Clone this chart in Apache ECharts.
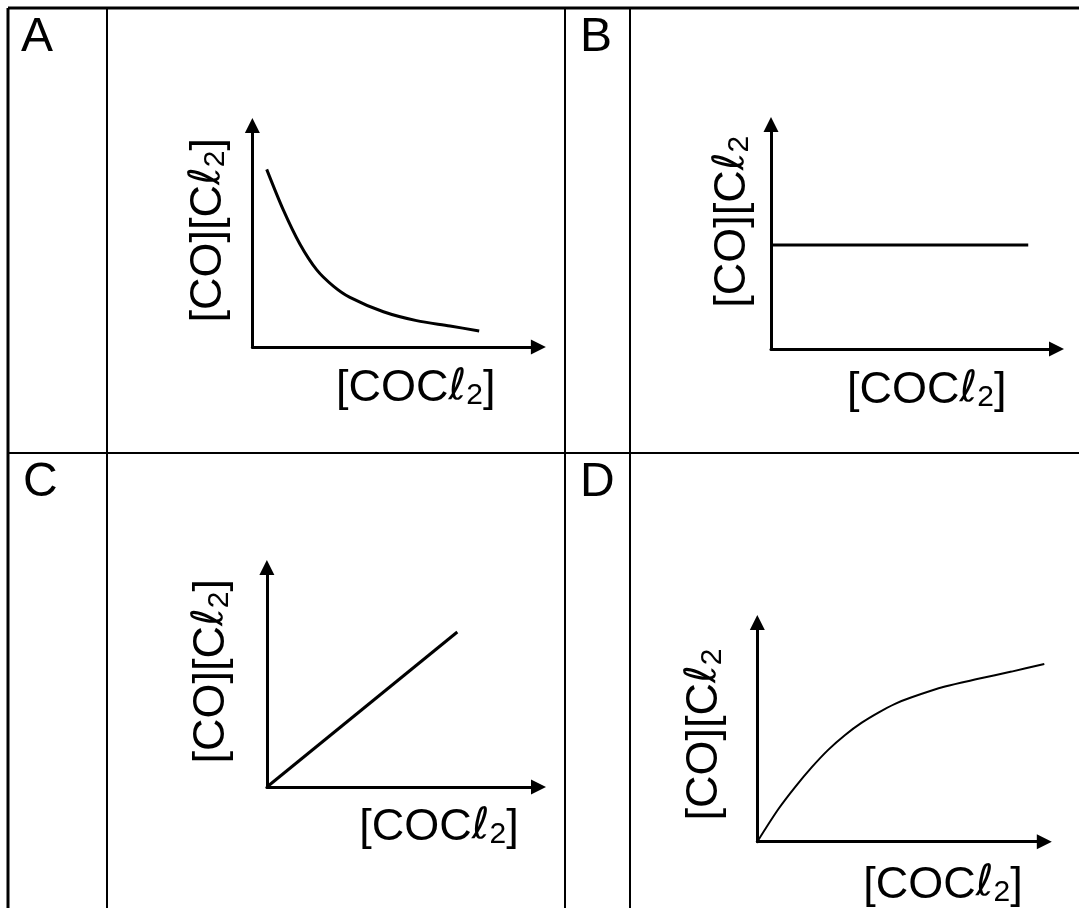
<!DOCTYPE html>
<html>
<head>
<meta charset="utf-8">
<script src="https://cdn.jsdelivr.net/npm/echarts@6/dist/echarts.min.js"></script>
<style>
html,body{margin:0;padding:0;background:#fff;}
#main{width:1079px;height:908px;}
</style>
</head>
<body>
<div id="main"></div>
<script>
// ---- data ----
const panelLetters = ['A', 'B', 'C', 'D'];
const xAxisName = '[COCℓ2]';
const yAxisNames = ['[CO][Cℓ2]', '[CO][Cℓ2', '[CO][Cℓ2]', '[CO][Cℓ2'];

const curveA_x = [5.0, 10.8, 16.6, 22.5, 28.3, 34.1, 45.8, 57.4, 69.1, 79.3];
const curveA_y = [80.2, 61.9, 46.5, 34.8, 27.5, 22.4, 15.9, 11.9, 9.5, 7.2];

const lineB_x = [0, 90.1];
const lineB_y = [46.3, 46.3];

const lineC_x = [0, 70.1];
const lineC_y = [0, 70.6];

const curveD_x = [0, 7.3, 13.1, 19.0, 24.7, 30.6, 36.4, 42.2, 48.0, 53.8, 65.4, 77.0, 88.6, 100];
const curveD_y = [0, 14.8, 24.8, 34.0, 41.9, 48.7, 54.3, 58.9, 62.9, 65.9, 70.8, 74.3, 77.6, 81.1];

function pairs(xs, ys) { return xs.map((x, i) => [x, ys[i]]); }

// ---- layout ----
const grids = [
  {left: 252.4, top: 125.5, width: 286, height: 221.5},
  {left: 771, top: 124.5, width: 285.5, height: 224.5},
  {left: 266.9, top: 567.5, width: 271.6, height: 219.5},
  {left: 757.3, top: 622.5, width: 287, height: 219.2}
];
const xNameGap = [19, 19, 18, 21];
const xNameShift = [20.4, 13, 36.3, 42.2];
const yNameGap = [21.5, 16, 32.5, 30];
const yNameShiftUp = [6, 15, 6, -2.5];

const FONT = '"Liberation Sans", Arial, Helvetica, sans-serif';
const FS = 45;
const rich = {
  m: {fontSize: FS, lineHeight: FS, fontFamily: FONT, color: '#000', padding: [0, 0, 7, 0], verticalAlign: 'top'},
  l: {fontSize: FS - 2, lineHeight: FS, fontFamily: '"DejaVu Sans", sans-serif', color: '#000', padding: [0, 0, 7, 0], verticalAlign: 'top'},
  s: {fontSize: 30, lineHeight: 30, fontFamily: FONT, color: '#000', verticalAlign: 'bottom'}
};
function richName(str) {
  const i = str.indexOf('ℓ');
  const pre = str.slice(0, i);
  const post = str.slice(i + 2);
  return '{m|' + pre + '}{l|ℓ}{s|2}' + (post ? '{m|' + post + '}' : '');
}

const axisLineStyle = {
  show: true,
  onZero: false,
  symbol: ['none', 'triangle'],
  symbolSize: [15, 15],
  lineStyle: {color: '#000', width: 3}
};

const xAxes = grids.map((g, i) => ({
  type: 'value', gridIndex: i, min: 0, max: 100,
  axisLine: axisLineStyle, axisTick: {show: false}, axisLabel: {show: false}, splitLine: {show: false},
  name: richName(xAxisName), nameLocation: 'middle', nameGap: xNameGap[i],
  nameTextStyle: {rich: rich, padding: xNameShift[i] >= 0 ? [0, 0, 0, 2 * xNameShift[i]] : [0, -2 * xNameShift[i], 0, 0]}
}));
const yAxes = grids.map((g, i) => ({
  type: 'value', gridIndex: i, min: 0, max: 100,
  axisLine: axisLineStyle, axisTick: {show: false}, axisLabel: {show: false}, splitLine: {show: false},
  name: richName(yAxisNames[i]), nameLocation: 'middle', nameGap: yNameGap[i], nameRotate: 90,
  nameTextStyle: {rich: rich, padding: yNameShiftUp[i] >= 0 ? [0, 0, 0, 2 * yNameShiftUp[i]] : [0, -2 * yNameShiftUp[i], 0, 0]}
}));

function lineSeries(idx, data, width, smooth) {
  return {
    type: 'line', xAxisIndex: idx, yAxisIndex: idx, data: data,
    smooth: smooth, showSymbol: false, symbol: 'none', silent: true,
    lineStyle: {color: '#000', width: width}
  };
}

// table lines
const W = 1079, H = 908;
const tableLines = [
  {x1: 8, y1: 8, x2: W, y2: 8, w: 3},
  {x1: 8, y1: 8, x2: 8, y2: H, w: 3},
  {x1: 107, y1: 8, x2: 107, y2: H, w: 2},
  {x1: 565, y1: 8, x2: 565, y2: H, w: 2},
  {x1: 630, y1: 8, x2: 630, y2: H, w: 2},
  {x1: 8, y1: 453, x2: W, y2: 453, w: 2}
];
const letterPos = [[21, 14], [580, 14], [23, 459], [580, 459]];

const graphics = tableLines.map(l => ({
  type: 'line', shape: {x1: l.x1, y1: l.y1, x2: l.x2, y2: l.y2},
  style: {stroke: '#000', lineWidth: l.w}, silent: true
})).concat(panelLetters.map((t, i) => ({
  type: 'text', left: letterPos[i][0], top: letterPos[i][1],
  style: {text: t, font: '48px ' + FONT, fill: '#000'}, silent: true
})));

const chart = echarts.init(document.getElementById('main'), null, {renderer: 'canvas'});
chart.setOption({
  animation: false,
  backgroundColor: '#fff',
  grid: grids.map(g => Object.assign({containLabel: false, outerBoundsMode: 'none'}, g)),
  xAxis: xAxes,
  yAxis: yAxes,
  series: [
    lineSeries(0, pairs(curveA_x, curveA_y), 3, 0.3),
    lineSeries(1, pairs(lineB_x, lineB_y), 3, false),
    lineSeries(2, pairs(lineC_x, lineC_y), 3, false),
    lineSeries(3, pairs(curveD_x, curveD_y), 2, 0.3)
  ],
  graphic: graphics
});
</script>
</body>
</html>
